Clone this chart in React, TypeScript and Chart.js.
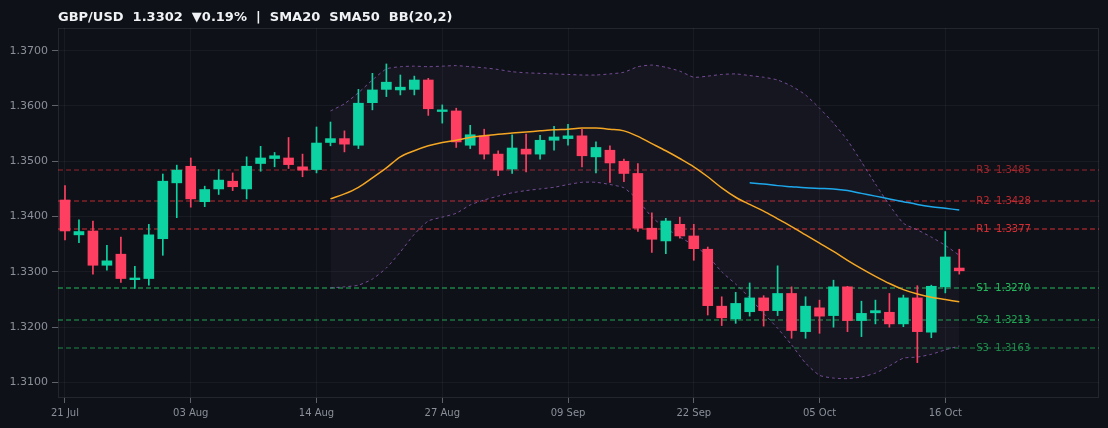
import React, { useEffect, useRef } from 'react';
import { Chart, registerables } from 'chart.js';

Chart.register(...registerables);

// ---------- data ----------
const dates = [
  '21 Jul', '22 Jul', '23 Jul', '24 Jul', '27 Jul', '28 Jul', '29 Jul', '30 Jul', '31 Jul',
  '03 Aug', '04 Aug', '05 Aug', '06 Aug', '07 Aug', '10 Aug', '11 Aug', '12 Aug', '13 Aug', '14 Aug',
  '17 Aug', '18 Aug', '19 Aug', '20 Aug', '21 Aug', '24 Aug', '25 Aug', '26 Aug', '27 Aug', '28 Aug', '31 Aug',
  '01 Sep', '02 Sep', '03 Sep', '04 Sep', '07 Sep', '08 Sep', '09 Sep', '10 Sep', '11 Sep', '14 Sep',
  '15 Sep', '16 Sep', '17 Sep', '18 Sep', '21 Sep', '22 Sep', '23 Sep', '24 Sep', '25 Sep', '28 Sep',
  '29 Sep', '30 Sep', '01 Oct', '02 Oct', '05 Oct', '06 Oct', '07 Oct', '08 Oct', '09 Oct', '12 Oct',
  '13 Oct', '14 Oct', '15 Oct', '16 Oct', '19 Oct',
];

const opens = [
  1.3430, 1.3367, 1.3374, 1.3312, 1.3332, 1.3286, 1.3288, 1.3360, 1.3461, 1.3491,
  1.3427, 1.3450, 1.3464, 1.3450, 1.3496, 1.3505, 1.3506, 1.3490, 1.3485, 1.3534,
  1.3541, 1.3529, 1.3606, 1.3630, 1.3629, 1.3630, 1.3647, 1.3590, 1.3591, 1.3529,
  1.3546, 1.3513, 1.3486, 1.3522, 1.3513, 1.3538, 1.3541, 1.3546, 1.3508, 1.3520,
  1.3500, 1.3478, 1.3379, 1.3356, 1.3386, 1.3365, 1.3341, 1.3238, 1.3215, 1.3228,
  1.3253, 1.3230, 1.3261, 1.3192, 1.3235, 1.3221, 1.3273, 1.3212, 1.3226, 1.3227,
  1.3206, 1.3253, 1.3191, 1.3273, 1.3307,
];
const highs = [
  1.3456, 1.3394, 1.3392, 1.3348, 1.3363, 1.3310, 1.3386, 1.3477, 1.3493, 1.3506,
  1.3455, 1.3485, 1.3479, 1.3508, 1.3527, 1.3516, 1.3543, 1.3513, 1.3562, 1.3571,
  1.3555, 1.3630, 1.3659, 1.3676, 1.3656, 1.3654, 1.3650, 1.3602, 1.3596, 1.3565,
  1.3558, 1.3519, 1.3548, 1.3549, 1.3547, 1.3563, 1.3567, 1.3558, 1.3535, 1.3528,
  1.3504, 1.3496, 1.3407, 1.3397, 1.3399, 1.3386, 1.3345, 1.3255, 1.3263, 1.3280,
  1.3257, 1.3311, 1.3273, 1.3255, 1.3249, 1.3285, 1.3274, 1.3247, 1.3249, 1.3261,
  1.3258, 1.3275, 1.3276, 1.3373, 1.3341,
];
const lows = [
  1.3358, 1.3353, 1.3296, 1.3303, 1.3281, 1.3270, 1.3276, 1.3330, 1.3398, 1.3417,
  1.3418, 1.3440, 1.3447, 1.3432, 1.3482, 1.3490, 1.3487, 1.3472, 1.3479, 1.3528,
  1.3517, 1.3523, 1.3593, 1.3617, 1.3620, 1.3620, 1.3583, 1.3569, 1.3525, 1.3523,
  1.3504, 1.3474, 1.3478, 1.3481, 1.3504, 1.3520, 1.3529, 1.3490, 1.3479, 1.3462,
  1.3463, 1.3373, 1.3335, 1.3333, 1.3361, 1.3321, 1.3222, 1.3203, 1.3207, 1.3220,
  1.3202, 1.3221, 1.3180, 1.3180, 1.3189, 1.3200, 1.3192, 1.3183, 1.3206, 1.3200,
  1.3201, 1.3136, 1.3181, 1.3262, 1.3296,
];
const closes = [
  1.3374, 1.3373, 1.3312, 1.3320, 1.3288, 1.3289, 1.3367, 1.3464, 1.3484, 1.3432,
  1.3449, 1.3466, 1.3454, 1.3491, 1.3506, 1.3510, 1.3494, 1.3484, 1.3533, 1.3541,
  1.3531, 1.3605, 1.3629, 1.3643, 1.3634, 1.3647, 1.3595, 1.3593, 1.3535, 1.3548,
  1.3513, 1.3484, 1.3524, 1.3513, 1.3538, 1.3544, 1.3546, 1.3510, 1.3525, 1.3497,
  1.3478, 1.3379, 1.3359, 1.3392, 1.3365, 1.3342, 1.3239, 1.3217, 1.3243, 1.3253,
  1.3230, 1.3261, 1.3194, 1.3238, 1.3220, 1.3273, 1.3212, 1.3225, 1.3230, 1.3206,
  1.3253, 1.3192, 1.3274, 1.3327, 1.3302,
];

const sma20Start = 19;
const sma20 = [
  1.3432, 1.3441, 1.3453, 1.3470, 1.3488, 1.3508, 1.3519, 1.3528, 1.3534, 1.3538,
  1.3543, 1.3546, 1.3549, 1.3551, 1.3553, 1.3555, 1.3557, 1.3558, 1.3560, 1.3560,
  1.3558, 1.3555, 1.3545, 1.3532, 1.3519, 1.3505, 1.3490, 1.3472, 1.3452, 1.3435,
  1.3422, 1.3410, 1.3396, 1.3382, 1.3367, 1.3352, 1.3337, 1.3321, 1.3306, 1.3292,
  1.3279, 1.3268, 1.3260, 1.3254, 1.3250, 1.3246,
];

const sma50Start = 49;
const sma50 = [
  1.3461, 1.3459, 1.3456, 1.3454, 1.3452, 1.3451, 1.3450, 1.3447, 1.3442, 1.3437,
  1.3432, 1.3427, 1.3422, 1.3418, 1.3415, 1.3412,
];

const bbStart = 19;
const bbUpper = [
  1.3591, 1.3604, 1.3624, 1.3647, 1.3667, 1.3671, 1.3672, 1.3671, 1.3672, 1.3673,
  1.3671, 1.3669, 1.3666, 1.3662, 1.3660, 1.3659, 1.3658, 1.3657, 1.3656, 1.3656,
  1.3658, 1.3661, 1.3671, 1.3674, 1.3670, 1.3663, 1.3652, 1.3654, 1.3657, 1.3658,
  1.3655, 1.3652, 1.3647, 1.3636, 1.3620, 1.3596, 1.3569, 1.3538, 1.3499, 1.3459,
  1.3421, 1.3388, 1.3376, 1.3363, 1.3348, 1.3330,
];
const bbLower = [
  1.3271, 1.3273, 1.3276, 1.3287, 1.3307, 1.3336, 1.3368, 1.3392, 1.3399, 1.3406,
  1.3421, 1.3430, 1.3437, 1.3443, 1.3447, 1.3450, 1.3453, 1.3458, 1.3462, 1.3462,
  1.3458, 1.3452, 1.3430, 1.3399, 1.3379, 1.3363, 1.3348, 1.3329, 1.3300, 1.3278,
  1.3253, 1.3225, 1.3198, 1.3168, 1.3135, 1.3113, 1.3108, 1.3107, 1.3110, 1.3117,
  1.3130, 1.3144, 1.3146, 1.3151, 1.3159, 1.3166,
];

const levelNames = ['R3', 'R2', 'R1', 'S1', 'S2', 'S3'];
const levelValues = [1.3485, 1.3428, 1.3377, 1.3270, 1.3213, 1.3163];

const tickEvery = 9;
const titleText = 'GBP/USD  1.3302  \u25BC0.19%  |  SMA20  SMA50  BB(20,2)';

// ---------- styles ----------
const BG = '#0e1117';
const BULL = '#0dd3a2';
const BEAR = '#ff3f61';
const SMA20_COLOR = '#f5a623';
const SMA50_COLOR = '#1ea8ec';
const BB_COLOR = 'rgba(150, 95, 190, 0.75)';
const TICK_TEXT = '#8a8f99';
const FONT = '"DejaVu Sans", sans-serif';

const levelColor = (name: string, alpha: number) =>
  name.startsWith('R') ? `rgba(225, 48, 55, ${alpha})` : `rgba(38, 195, 98, ${alpha})`;
const levelAlpha = (name: string) => (name.endsWith('1') ? 0.95 : name.endsWith('2') ? 0.82 : 0.66);

export default function App() {
  const ref = useRef<HTMLCanvasElement | null>(null);

  useEffect(() => {
    document.body.style.margin = '0';
    document.body.style.background = BG;
    Chart.defaults.font.family = FONT;

    const idx = dates.map((_, i) => i);
    const colors = idx.map((i) => (closes[i] >= opens[i] ? BULL : BEAR));

    const bgPlugin = {
      id: 'bg',
      beforeDraw(chart: any) {
        const { ctx, width, height } = chart;
        ctx.save();
        ctx.fillStyle = BG;
        ctx.fillRect(0, 0, width, height);
        ctx.restore();
      },
    };

    const levelsPlugin = {
      id: 'levels',
      beforeDatasetsDraw(chart: any) {
        const { ctx, chartArea, scales } = chart;
        const y = scales.y;
        const x = scales.x;
        ctx.save();
        levelNames.forEach((name, k) => {
          const v = levelValues[k];
          const py = Math.round(y.getPixelForValue(v));
          const a = levelAlpha(name);
          ctx.strokeStyle = levelColor(name, a);
          ctx.lineWidth = 1.2;
          ctx.setLineDash([5, 3]);
          ctx.beginPath();
          ctx.moveTo(chartArea.left, py);
          ctx.lineTo(chartArea.right, py);
          ctx.stroke();
          ctx.setLineDash([]);
          ctx.font = `10px ${FONT}`;
          ctx.fillStyle = levelColor(name, a);
          ctx.textAlign = 'left';
          ctx.textBaseline = 'middle';
          const px = x.getPixelForValue(dates.length - 1) + 17;
          ctx.fillText(`${name}  ${v.toFixed(4)}`, px, py);
        });
        ctx.restore();
      },
      afterDraw(chart: any) {
        const { ctx, chartArea } = chart;
        ctx.save();
        ctx.strokeStyle = 'rgba(255,255,255,0.09)';
        ctx.lineWidth = 1;
        ctx.strokeRect(
          Math.round(chartArea.left) + 0.5,
          Math.round(chartArea.top) + 0.5,
          Math.round(chartArea.right - chartArea.left) - 1,
          Math.round(chartArea.bottom - chartArea.top) - 1
        );
        ctx.font = `bold 13px ${FONT}`;
        ctx.fillStyle = '#f0f2f5';
        ctx.textAlign = 'left';
        ctx.textBaseline = 'alphabetic';
        ctx.fillText(titleText, chartArea.left, 20.5);
        ctx.restore();
      },
    };

    const chart = new Chart(ref.current as HTMLCanvasElement, {
      type: 'bar',
      data: {
        datasets: [
          {
            type: 'line',
            label: 'BB upper',
            data: bbUpper.map((v, k) => ({ x: bbStart + k, y: v })),
            borderColor: BB_COLOR,
            borderWidth: 1,
            borderDash: [3, 3],
            pointRadius: 0,
            fill: false,
            tension: 0.2,
            order: 5,
          },
          {
            type: 'line',
            label: 'BB lower',
            data: bbLower.map((v, k) => ({ x: bbStart + k, y: v })),
            borderColor: BB_COLOR,
            borderWidth: 1,
            borderDash: [3, 3],
            pointRadius: 0,
            fill: '-1',
            backgroundColor: 'rgba(140, 115, 200, 0.055)',
            tension: 0.2,
            order: 5,
          },
          {
            type: 'bar',
            label: 'wick',
            data: idx.map((i) => ({ x: i, y: [lows[i], highs[i]] })),
            backgroundColor: colors,
            borderWidth: 0,
            barThickness: 1,
            grouped: false,
            order: 3,
          },
          {
            type: 'bar',
            label: 'body',
            data: idx.map((i) => ({ x: i, y: [opens[i], closes[i]] })),
            backgroundColor: colors,
            borderWidth: 0,
            barThickness: 10,
            grouped: false,
            order: 2,
          },
          {
            type: 'line',
            label: 'SMA20',
            data: sma20.map((v, k) => ({ x: sma20Start + k, y: v })),
            borderColor: SMA20_COLOR,
            borderWidth: 1.5,
            pointRadius: 0,
            fill: false,
            cubicInterpolationMode: 'monotone',
            order: 1,
          },
          {
            type: 'line',
            label: 'SMA50',
            data: sma50.map((v, k) => ({ x: sma50Start + k, y: v })),
            borderColor: SMA50_COLOR,
            borderWidth: 1.5,
            pointRadius: 0,
            fill: false,
            cubicInterpolationMode: 'monotone',
            order: 1,
          },
        ] as any,
      },
      options: {
        responsive: false,
        animation: false,
        devicePixelRatio: 1,
        layout: { padding: { top: 28, right: 9, left: 0, bottom: 0 } },
        plugins: {
          legend: { display: false },
          tooltip: { enabled: false },
          title: { display: false },
        },
        scales: {
          x: {
            type: 'linear',
            min: -0.5,
            max: 74,
            offset: false,
            grid: {
              offset: false,
              color: 'rgba(255,255,255,0.045)',
              tickColor: 'rgba(150,155,165,0.6)',
              tickLength: 5,
              drawTicks: true,
            },
            border: { display: false },
            afterBuildTicks: (s: any) => {
              s.ticks = idx.filter((i) => i % tickEvery === 0).map((v) => ({ value: v }));
            },
            afterFit: (s: any) => {
              s.height = 30;
            },
            ticks: {
              autoSkip: false,
              maxRotation: 0,
              padding: 4,
              color: TICK_TEXT,
              font: { size: 10, family: FONT },
              callback: (v: any) => dates[v as number] ?? '',
            },
          },
          y: {
            type: 'linear',
            min: 1.3072,
            max: 1.3741,
            beginAtZero: false,
            grid: {
              color: 'rgba(255,255,255,0.045)',
              tickColor: 'rgba(150,155,165,0.6)',
              tickLength: 6,
              drawTicks: true,
            },
            border: { display: false },
            afterFit: (s: any) => {
              s.width = 58;
            },
            ticks: {
              stepSize: 0.01,
              includeBounds: false,
              padding: 4,
              color: TICK_TEXT,
              font: { size: 11, family: FONT },
              callback: (v: any) => Number(v).toFixed(4),
            },
          },
        },
      } as any,
      plugins: [bgPlugin, levelsPlugin],
    });

    return () => chart.destroy();
  }, []);

  return (
    <div style={{ width: 1108, height: 428, background: BG }}>
      <canvas ref={ref} width={1108} height={428} style={{ display: 'block' }} />
    </div>
  );
}
